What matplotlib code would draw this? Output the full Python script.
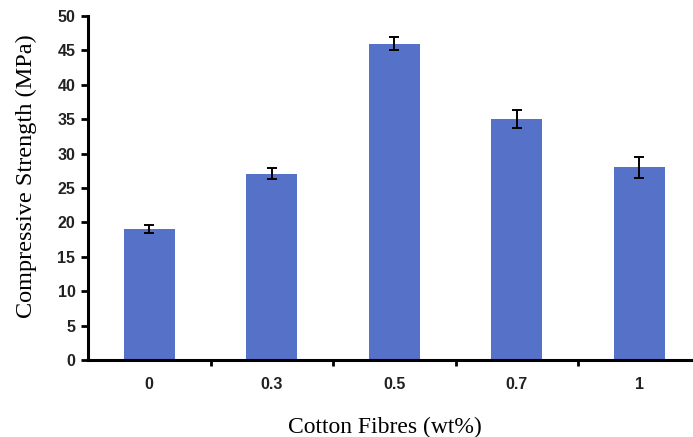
import matplotlib
matplotlib.use("Agg")
import matplotlib.pyplot as plt
import numpy

fibre_content = ["0", "0.3", "0.5", "0.7", "1"]
strength_mpa = [19.0, 27.1, 46.0, 35.0, 28.0]
strength_err = [0.55, 0.75, 0.9, 1.3, 1.55]

bar_colour = "#5571c8"


def main():
    fig = plt.figure(figsize=(6.93, 4.37), dpi=100)
    # axes box placed to match the reference pixels
    ax = fig.add_axes([88 / 693, 77 / 437, 605 / 693, 344 / 437])

    x = numpy.arange(len(fibre_content))
    ax.bar(x, strength_mpa, width=0.42, color=bar_colour, zorder=2)
    ax.errorbar(
        x, strength_mpa, yerr=strength_err, fmt="none",
        ecolor="black", elinewidth=1.4, capsize=3.5, capthick=1.4, zorder=3,
    )

    ax.set_ylim(0, 50)
    ax.set_xlim(-0.5, -0.5 + 605 / 122.5)
    ax.set_yticks(range(0, 51, 5))
    ax.set_xticks(x)
    ax.set_xticklabels(fibre_content)
    ax.set_xticks(x[:-1] + 0.5, minor=True)

    for label in ax.get_xticklabels() + ax.get_yticklabels():
        label.set_fontfamily("Liberation Sans")
        label.set_fontsize(11.5)
        label.set_fontweight("bold")
        label.set_color("#222222")

    ax.tick_params(axis="x", which="major", length=0, pad=12)
    ax.tick_params(axis="x", which="minor", length=4, width=2, direction="out")
    ax.tick_params(axis="y", length=5, width=2, direction="out", pad=4)

    for side in ["top", "right"]:
        ax.spines[side].set_visible(False)
    ax.spines["left"].set_linewidth(2.2)
    ax.spines["bottom"].set_linewidth(2.2)

    ax.set_ylabel("Compressive Strength (MPa)", fontfamily="Liberation Serif",
                  fontsize=17.5)
    ax.yaxis.set_label_coords(-0.084, 0.535)
    ax.set_xlabel("Cotton Fibres (wt%)", fontfamily="Liberation Serif",
                  fontsize=17)
    ax.xaxis.set_label_coords(0.49, -0.166)

    fig.savefig("out.png", dpi=100)
    plt.close(fig)


if __name__ == "__main__":
    main()
